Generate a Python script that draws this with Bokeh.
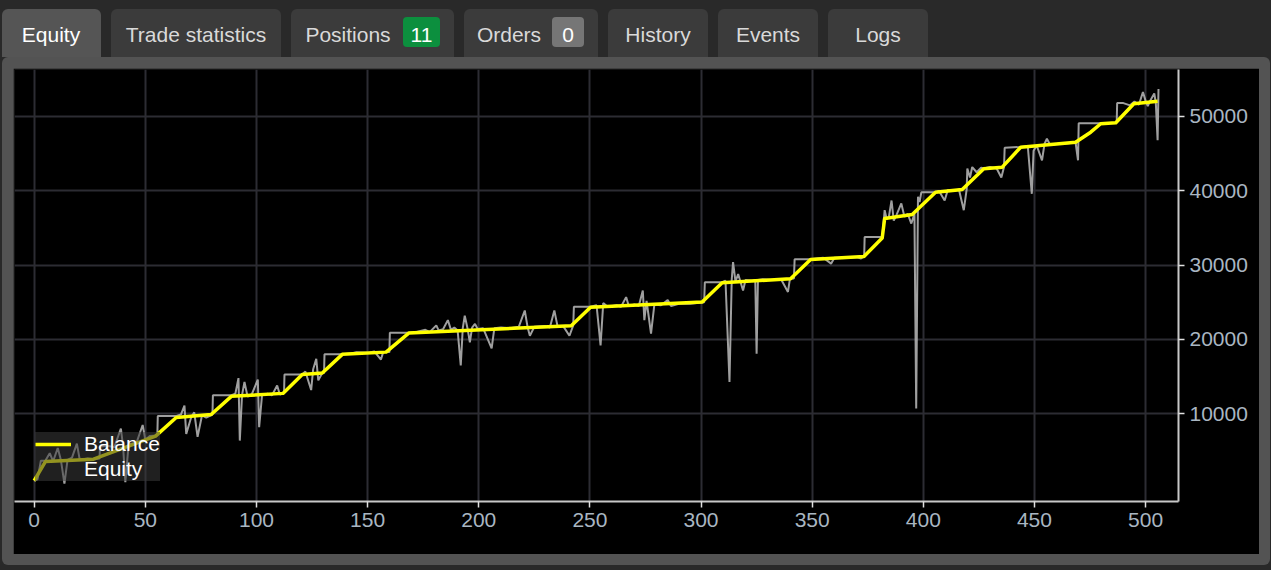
from bokeh.plotting import figure
from bokeh.layouts import column
from bokeh.models import (Range1d, FixedTicker, Legend, LegendItem, NumeralTickFormatter,
                          GlobalInlineStyleSheet, Div)
from bokeh.embed import file_html
from bokeh.resources import INLINE

# ---------------- data ----------------
balance_x = [0, 5.1, 26.7, 54.6, 63.9, 79.6, 88.7, 111.9, 120.6, 129.6, 138.6, 158.3, 168.5,
             241.6, 250.3, 300.5, 309.5, 340.3, 349.3, 373.3, 381.5, 382.6, 395, 405.5, 417.5,
             427.2, 435.5, 443.8, 468.5, 475.3, 479.8, 486.6, 494.7, 505.4]
balance_y = [1000, 3600, 3900, 7000, 9500, 9900, 12350, 12750, 15300, 15500, 18000, 18300, 20860,
             21850, 24350, 25030, 27630, 28170, 30770, 31170, 33640, 36280, 36820, 39820, 40180,
             42960, 43180, 45870, 46540, 47890, 49020, 49150, 51710, 52060]

equity_x = [0, 1.5, 3, 5, 7, 8.5, 10.6, 12, 13.6, 15, 17, 19.2, 20.5, 24, 27, 29.4, 29.6, 33, 36,
            39, 40, 41, 42.5, 46, 48.8, 50, 52, 55.4, 55.6, 64, 66, 67.6, 68.4, 70.6, 72, 73.5,
            75.5, 77.4, 80.2, 80.4, 88.8, 90.5, 91.9, 92.5, 93.5, 94.6, 96, 98, 100.6, 101.2,
            102.5, 105, 107, 109.3, 110.5, 112.4, 112.6, 120.6, 122, 124.6, 125.5, 126.9, 127.8,
            129.6, 130.4, 130.6, 138.6, 142, 145, 150, 153, 156, 157, 159.8, 160, 168.5, 172,
            176, 178, 180.9, 182, 184, 186.1, 187.5, 189, 190.5, 191.9, 192.8, 193.7, 195, 196,
            197, 198.3, 199.5, 202, 205.8, 207, 210, 214, 218, 220.7, 222, 223, 225, 230, 232,
            234, 235.5, 238, 240.8, 242.5, 242.8, 250.3, 253, 254.8, 256, 258, 262, 264, 266.3,
            267.5, 270, 272, 273.8, 274.5, 275.5, 277.5, 279, 282, 285, 286.5, 290, 295, 301.4,
            301.7, 309.5, 311, 312.8, 313.8, 314.4, 315.5, 316.7, 318, 318.9, 320, 323, 324.4,
            325, 325.6, 328, 332, 336, 339.1, 340, 341.8, 342.1, 349.3, 352, 355, 358.5, 360,
            365, 370, 372, 373.4, 373.6, 381.5, 382.3, 382.6, 383.5, 384.5, 385.7, 386.7, 388,
            390.1, 391.5, 393, 394.6, 396, 396.8, 397.6, 398.3, 399.1, 405.5, 407, 409.6, 411,
            414, 416, 418.2, 419.5, 419.8, 421, 422, 424, 426, 427.2, 430, 433, 435.1, 436.3,
            436.6, 443.8, 447, 448.8, 449.6, 451, 453.4, 454.5, 455.6, 457, 460, 465, 468.5,
            469.6, 469.9, 479.8, 486.6, 487, 487.2, 490, 493, 495, 497, 498.8, 500, 501, 502,
            503.9, 504.6, 505.4, 505.8]
equity_y = [1000, 1200, 3700, 3700, 4700, 3600, 5400, 3800, 600, 3800, 4100, 6000, 3800, 4000,
            3900, 4000, 5600, 5700, 5500, 8000, 5600, 800, 5900, 6100, 8500, 6500, 7000, 7100,
            9700, 9700, 9900, 11100, 7300, 9500, 10200, 6900, 9800, 9500, 9900, 12500, 12500,
            12700, 14800, 6400, 12500, 14300, 12300, 12700, 14600, 8200, 12500, 12700, 12500,
            13800, 12600, 12800, 15300, 15300, 15700, 13200, 16000, 17400, 14500, 15500, 15500,
            18000, 18000, 18100, 18300, 18200, 18400, 17300, 18300, 18300, 20900, 20900, 21000,
            21300, 21000, 21900, 21200, 21400, 22600, 21300, 21600, 21200, 16500, 21500, 23200,
            21400, 19600, 21600, 22100, 21400, 21500, 18800, 21500, 21600, 21500, 21700, 23900,
            21600, 20500, 21700, 21800, 21600, 23900, 21700, 21800, 20500, 21900, 24400, 24400,
            24600, 19200, 24900, 24400, 24600, 24400, 25700, 24500, 24700, 24500, 26600, 22600,
            25200, 20800, 24700, 24600, 25300, 24500, 24800, 24800, 25000, 27700, 27700, 27900,
            14300, 28000, 30400, 27800, 28800, 27500, 26600, 28000, 27900, 28000, 18100, 28000,
            28100, 28000, 28100, 26400, 28200, 28200, 30800, 30800, 30900, 31000, 30200, 31000,
            31000, 31100, 30900, 31200, 33800, 33800, 36300, 37400, 36200, 36500, 38700, 36000,
            36800, 38300, 36500, 36900, 35600, 36900, 10700, 39200, 38500, 39800, 39800, 40000,
            38700, 40100, 40000, 40200, 37400, 40200, 43000, 41800, 43200, 42500, 43100, 43000,
            43200, 43000, 41800, 43200, 45800, 45900, 46000, 39600, 45400, 46100, 44100, 46300,
            47000, 46200, 46300, 46400, 46500, 44100, 49100, 49100, 49150, 49200, 51800, 51800,
            51500, 52000, 51600, 53300, 52100, 51400, 52100, 53100, 51800, 46800, 53700]

x_ticks = [0, 50, 100, 150, 200, 250, 300, 350, 400, 450, 500]
y_ticks = [10000, 20000, 30000, 40000, 50000]

tab_labels = ["Equity", "Trade statistics", "Positions", "Orders", "History", "Events", "Logs"]
badge_labels = {"Positions": "11", "Orders": "0"}

FONT = "Liberation Sans"
FS = "21px"

# ---------------- tab strip (HTML) ----------------
tab_left = [2, 111, 291, 464, 608, 718, 828]
tab_right = [101, 281, 454, 598, 708, 818, 928]
tab_text_center = [51, 196, 348, 509, 658, 768, 878]
badge_box = {"Positions": (403, 440, "#0c8f3e"), "Orders": (552, 584, "#767676")}

parts = []
for i, lab in enumerate(tab_labels):
    active = (i == 0)
    bg = "#555555" if active else "#3b3b3b"
    parts.append(
        f'<div style="position:absolute;left:{tab_left[i]}px;top:9px;'
        f'width:{tab_right[i] - tab_left[i]}px;height:48px;background:{bg};'
        f'border-radius:6px 6px 0 0;"></div>')
    col = "#ffffff" if active else "#d9d9d9"
    c = tab_text_center[i]
    parts.append(
        f'<div style="position:absolute;left:{c - 90}px;top:9px;width:180px;height:48px;'
        f'line-height:51px;text-align:center;color:{col};white-space:nowrap;">{lab}</div>')
    if lab in badge_labels:
        l, r, bcol = badge_box[lab]
        parts.append(
            f'<div style="position:absolute;left:{l}px;top:17px;width:{r - l}px;height:30px;'
            f'background:{bcol};border-radius:4px;color:#ffffff;text-align:center;'
            f'line-height:35px;">{badge_labels[lab]}</div>')

tab_html = (f'<div style="position:relative;width:1271px;height:57px;overflow:hidden;'
            f'background:#292929;font-family:\'{FONT}\',Arial,sans-serif;font-size:{FS};">'
            + "".join(parts) + '</div>')
tabs = Div(text=tab_html, width=1271, height=57,
           styles={"margin": "0", "padding": "0"})

# ---------------- main chart ----------------
p = figure(width=1246, height=486,
           x_range=Range1d(-8.86, 514.8), y_range=Range1d(-1796, 56322),
           output_backend="svg", toolbar_location=None,
           x_axis_location="below", y_axis_location="right",
           min_border_left=1, min_border_right=81, min_border_top=1, min_border_bottom=53)
p.background_fill_color = "black"
p.border_fill_color = "black"
p.outline_line_color = None

p.xgrid.grid_line_color = "#2c2c33"
p.xgrid.grid_line_width = 2
p.ygrid.grid_line_color = "#2c2c33"
p.ygrid.grid_line_width = 2

p.xaxis.ticker = FixedTicker(ticks=x_ticks)
p.yaxis.ticker = FixedTicker(ticks=y_ticks)
p.yaxis.formatter = NumeralTickFormatter(format="0")
for ax in (p.xaxis, p.yaxis):
    ax.axis_line_color = "#c8c8c8"
    ax.axis_line_width = 2
    ax.major_tick_line_color = "#e0e0e0"
    ax.major_tick_line_width = 1.5
    ax.major_tick_in = 0
    ax.major_tick_out = 6
    ax.minor_tick_line_color = None
    ax.major_label_text_color = "#a9b6c2"
    ax.major_label_text_font = FONT
    ax.major_label_text_font_size = FS
p.xaxis.major_label_standoff = 5
p.yaxis.major_label_standoff = 5

eq = p.line(equity_x, equity_y, line_color="#b0b0b0", line_width=2, line_alpha=0.9)
bal = p.line(balance_x, balance_y, line_color="#ffff00", line_width=3.5, line_join="round")
eq_leg = p.line(x=[], y=[], line_color="#b0b0b0", line_width=4)

legend = Legend(items=[LegendItem(label="Balance", renderers=[bal]),
                       LegendItem(label="Equity", renderers=[eq_leg])],
                location=(21, 20), background_fill_color="#3a3a3a", background_fill_alpha=0.55,
                border_line_color=None, label_text_color="#ffffff",
                label_text_font=FONT, label_text_font_size=FS,
                glyph_width=36, glyph_height=22, label_height=23, label_standoff=13,
                padding=3, spacing=1, margin=0)
p.add_layout(legend)

panel = column(p, styles={"background-color": "#535353", "padding": "11px",
                          "border-radius": "6px", "margin-left": "2px"})

page_css = GlobalInlineStyleSheet(
    css="html, body { margin: 0; padding: 0; background-color: #292929; overflow: hidden; }")
root = column(tabs, panel, spacing=0, stylesheets=[page_css])

open("out.html", "w").write(file_html(root, INLINE))
